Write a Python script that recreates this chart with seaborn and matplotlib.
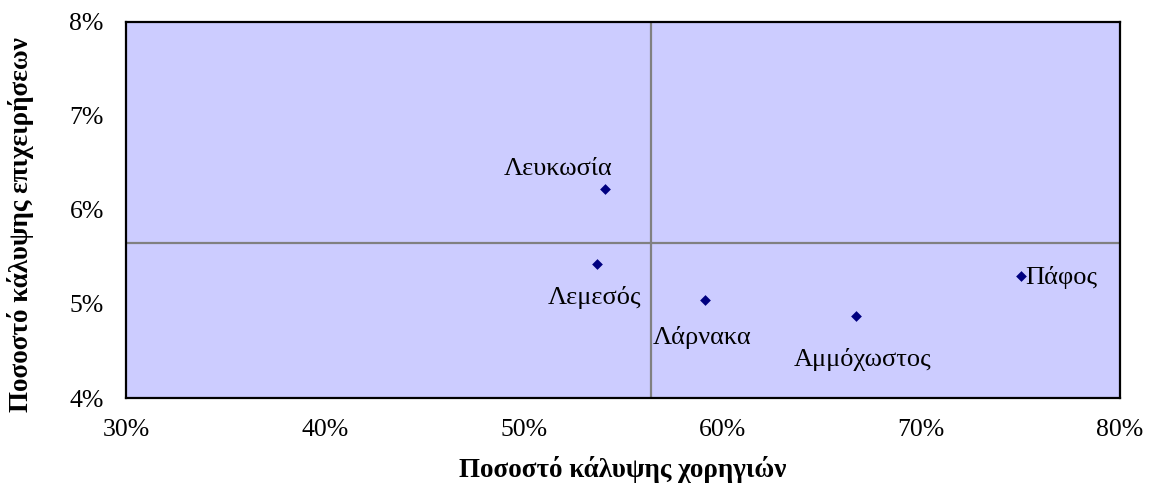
import matplotlib
matplotlib.use("Agg")
import matplotlib.pyplot as plt
import seaborn as sns
import pandas as pd

# data
districts = ["Λευκωσία", "Λεμεσός", "Λάρνακα", "Αμμόχωστος", "Πάφος"]
grant_cover = [54.1, 53.7, 59.1, 66.7, 75.0]      # x, %
business_cover = [6.22, 5.42, 5.04, 4.87, 5.30]   # y, %
x_ref = 56.4   # vertical reference line
y_ref = 5.65   # horizontal reference line
x_ticks = [30, 40, 50, 60, 70, 80]
y_ticks = [4, 5, 6, 7, 8]

df = pd.DataFrame({"district": districts, "x": grant_cover, "y": business_cover})

sns.set_style("white")
plt.rcParams["font.family"] = ["Liberation Serif", "DejaVu Serif"]
plt.rcParams["text.color"] = "black"
plt.rcParams["axes.labelcolor"] = "black"
plt.rcParams["xtick.color"] = "black"
plt.rcParams["ytick.color"] = "black"

fig = plt.figure(figsize=(11.52, 4.88), dpi=100)
ax = fig.add_axes([0.1094, 0.1844, 0.8628, 0.7711])
ax.set_facecolor("#CCCCFF")

ax.axvline(x_ref, color="#808080", lw=1.6, zorder=1)
ax.axhline(y_ref, color="#808080", lw=1.6, zorder=1)

sns.scatterplot(data=df, x="x", y="y", marker="D", s=30, color="#000080",
                edgecolor="#000080", linewidth=0, ax=ax, zorder=3)

# label placement (pixels offset from each point)
offsets = {"Λευκωσία": (7, 20, "right"),
           "Λεμεσός": (44, -33, "right"),
           "Λάρνακα": (-52, -37, "left"),
           "Αμμόχωστος": (-62, -43, "left"),
           "Πάφος": (5, -2, "left")}
for _, r in df.iterrows():
    dx, dy, ha = offsets[r["district"]]
    ax.annotate(r["district"], (r["x"], r["y"]), xytext=(dx, dy),
                textcoords="offset pixels", ha=ha, va="center", fontsize=19)

ax.set_xlim(30, 80)
ax.set_ylim(4, 8)
ax.set_xticks(x_ticks)
ax.set_yticks(y_ticks)
ax.set_xticklabels([f"{t}%" for t in x_ticks])
ax.set_yticklabels([f"{t}%" for t in y_ticks])
ax.tick_params(axis="x", length=0, pad=15, labelsize=18.5)
ax.tick_params(axis="y", length=0, pad=16, labelsize=18.5)

for sp in ax.spines.values():
    sp.set_visible(True)
    sp.set_color("black")
    sp.set_linewidth(1.6)

ax.set_xlabel("Ποσοστό κάλυψης χορηγιών", fontsize=19.5, fontweight="bold", labelpad=11)
ax.set_ylabel("Ποσοστό κάλυψης επιχειρήσεων", fontsize=19.5, fontweight="bold")
ax.yaxis.set_label_coords(-0.093, 0.462)
ax.grid(False)

fig.savefig("out.png", dpi=100)
